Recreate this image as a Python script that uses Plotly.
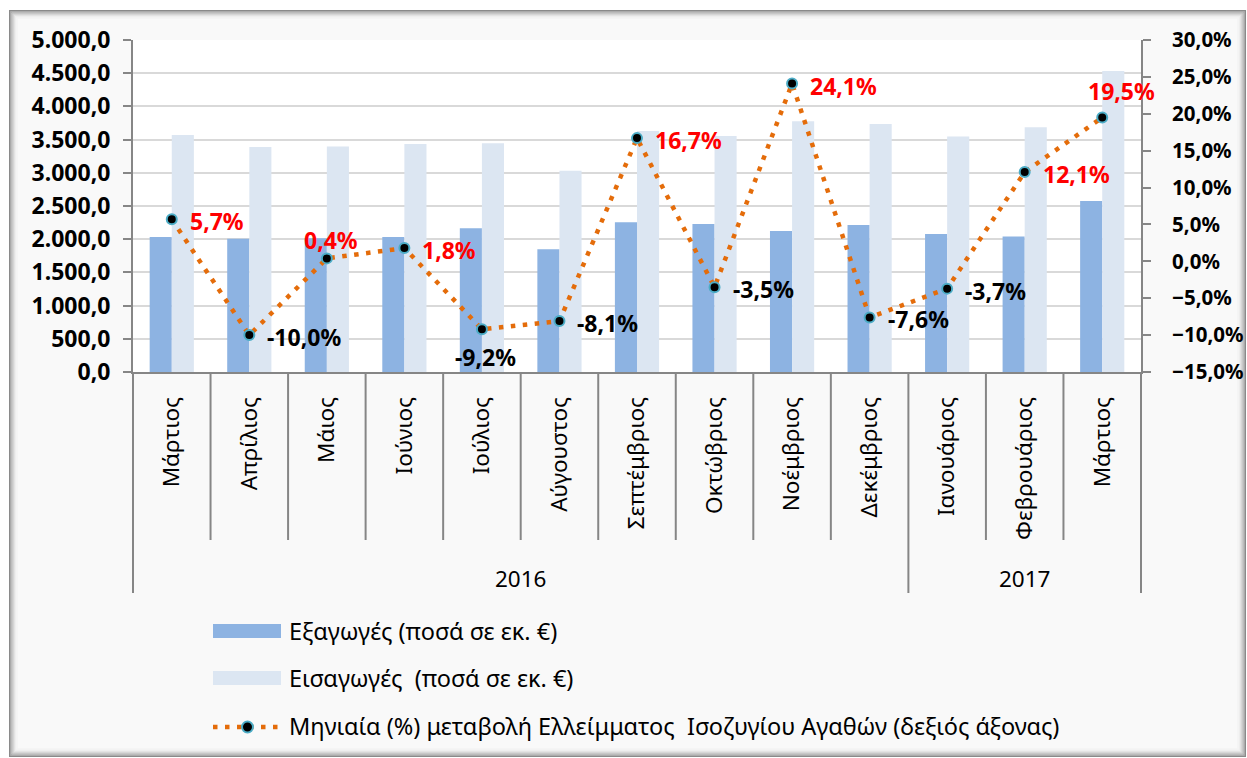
import plotly.graph_objects as go

# ---------------- data ----------------
months = ["Μάρτιος", "Απρίλιος", "Μάιος", "Ιούνιος", "Ιούλιος", "Αύγουστος",
          "Σεπτέμβριος", "Οκτώβριος", "Νοέμβριος", "Δεκέμβριος",
          "Ιανουάριος", "Φεβρουάριος", "Μάρτιος"]
years = ["2016"] * 10 + ["2017"] * 3
exports = [2035, 2005, 2015, 2035, 2165, 1850, 2255, 2230, 2125, 2215, 2080, 2040, 2575]
imports = [3570, 3390, 3395, 3435, 3445, 3030, 3630, 3555, 3775, 3735, 3545, 3685, 4535]
deficit_change = [5.7, -10.0, 0.4, 1.8, -9.2, -8.1, 16.7, -3.5, 24.1, -7.6, -3.7, 12.1, 19.5]
label_pos = ["right", "right", "above", "right", "below", "right", "right",
             "right", "right", "right", "right", "right", "above"]

name_exp = "Εξαγωγές (ποσά σε εκ. €)"
name_imp = "Εισαγωγές\u00a0 (ποσά σε εκ. €)"
name_line = "Μηνιαία (%) μεταβολή Ελλείμματος\u00a0 Ισοζυγίου Αγαθών (δεξιός άξονας)"

# ---------------- style ----------------
FONT = "Noto Sans"
C_EXP = "#8DB3E2"
C_IMP = "#DCE6F2"
C_LINE = "#E46C0A"
C_MK_LINE = "#4BACC6"
C_AXIS = "#868686"
C_GRID = "#D9D9D9"
DOT = dict(color=C_LINE, width=4.5, dash="4.5px,7.5px")

W, H = 1247, 758
ML, MR, MT, MB = 133, 106, 40, 386
PW, PH = W - ML - MR, H - MT - MB


def px(x):
    return (x - ML) / PW


def py(y):
    return (H - MB - y) / PH


x_idx = list(range(len(months)))
n = len(months)

fig = go.Figure()
fig.add_trace(go.Bar(x=x_idx, y=exports, name=name_exp, marker_color=C_EXP,
                     marker_line_width=0, showlegend=False))
fig.add_trace(go.Bar(x=x_idx, y=imports, name=name_imp, marker_color=C_IMP,
                     marker_line_width=0, showlegend=False))
fig.add_trace(go.Scatter(x=x_idx, y=[v / 100 for v in deficit_change], yaxis="y2",
                         name=name_line, mode="lines+markers",
                         line=DOT,
                         marker=dict(size=10, color="black",
                                     line=dict(color=C_MK_LINE, width=2)),
                         showlegend=False))

shapes = []
# frame with inset shadow
frame_cols = ["#8a8a8a", "#a4a4a4", "#bdbdbd", "#d2d2d2", "#e3e3e3", "#eeeeee", "#f4f4f4"]
x0f, x1f, y0f, y1f = 9, 1246, 10, 757
shapes.append(dict(type="rect", xref="paper", yref="paper", layer="below",
                   x0=px(x0f), x1=px(x1f), y0=py(y1f), y1=py(y0f),
                   fillcolor="#F9F9F9", line=dict(width=0)))
for k, c in enumerate(frame_cols):
    d = 0.75 + k * 1.2
    shapes.append(dict(type="rect", xref="paper", yref="paper", layer="below",
                       x0=px(x0f + d), x1=px(x1f - d), y0=py(y1f - d), y1=py(y0f + d),
                       line=dict(color=c, width=1.5), fillcolor="rgba(0,0,0,0)"))
# plot area
shapes.append(dict(type="rect", xref="paper", yref="paper", layer="below",
                   x0=0, x1=1, y0=0, y1=1, fillcolor="white", line=dict(width=0)))

# category dividers
bottom_short = py(540)
bottom_long = py(593)
group_bounds = {0, n}
for i in range(1, n):
    if years[i] != years[i - 1]:
        group_bounds.add(i)
for k in range(n + 1):
    yb = bottom_long if k in group_bounds else bottom_short
    shapes.append(dict(type="line", xref="paper", yref="paper",
                       x0=k / n, x1=k / n, y0=0, y1=yb,
                       line=dict(color=C_AXIS, width=2)))

# legend (manual)
leg_x0, leg_x1 = px(213), px(281)
shapes.append(dict(type="rect", xref="paper", yref="paper", x0=leg_x0, x1=leg_x1,
                   y0=py(638), y1=py(624), fillcolor=C_EXP, line=dict(width=0)))
shapes.append(dict(type="rect", xref="paper", yref="paper", x0=leg_x0, x1=leg_x1,
                   y0=py(685), y1=py(671), fillcolor=C_IMP, line=dict(width=0)))
shapes.append(dict(type="line", xref="paper", yref="paper", x0=leg_x0, x1=leg_x1,
                   y0=py(727), y1=py(727), line=DOT))
shapes.append(dict(type="circle", xref="paper", yref="paper",
                   x0=px(242), x1=px(253), y0=py(732.5), y1=py(721.5),
                   fillcolor="black", line=dict(color=C_MK_LINE, width=2)))

annotations = []
for txt, yy in [(name_exp, 631), (name_imp, 678), (name_line, 726)]:
    annotations.append(dict(text=txt, xref="paper", yref="paper", x=px(287), y=py(yy),
                            xanchor="left", yanchor="middle", showarrow=False,
                            font=dict(family=FONT, size=23.5, color="black")))

# year group labels
for yr in dict.fromkeys(years):
    idxs = [i for i, y in enumerate(years) if y == yr]
    annotations.append(dict(text=yr, xref="x", yref="paper",
                            x=(idxs[0] + idxs[-1]) / 2, y=py(578),
                            xanchor="center", yanchor="middle", showarrow=False,
                            font=dict(family=FONT, size=22.5, color="black")))

# data labels
shift = {"right": dict(xanchor="left", yanchor="middle", xshift=16, yshift=-2),
         "above": dict(xanchor="center", yanchor="middle", xshift=4, yshift=18),
         "below": dict(xanchor="center", yanchor="middle", xshift=4, yshift=-28)}
for i, (v, pos) in enumerate(zip(deficit_change, label_pos)):
    txt = f"{v:.1f}".replace(".", ",") + "%"
    a = dict(text=txt, xref="x", yref="y2", x=i, y=v / 100, showarrow=False,
             font=dict(family=FONT, size=23, weight="bold",
                       color="#FF0000" if v > 0 else "black"))
    a.update(shift[pos])
    if pos == "above" and i == n - 1:
        a["xshift"] = 19
        a["yshift"] = 26
    annotations.append(a)

fig.update_layout(
    width=W, height=H, autosize=False,
    margin=dict(l=ML, r=MR, t=MT, b=MB, pad=0, autoexpand=False),
    paper_bgcolor="white", plot_bgcolor="white",
    separators=",.",
    barmode="group", bargap=0.43, bargroupgap=0,
    font=dict(family=FONT, color="black"),
    showlegend=False,
    shapes=shapes, annotations=annotations,
    xaxis=dict(range=[-0.5, n - 0.5], tickmode="array", tickvals=x_idx, ticktext=months,
               tickangle=-90, showgrid=False, zeroline=False, automargin=False,
               showline=True, linecolor=C_AXIS, linewidth=2,
               ticks="outside", ticklen=0, ticklabelstandoff=14,
               tickfont=dict(family=FONT, size=22.5, color="black")),
    yaxis=dict(range=[0, 5000], dtick=500, tickformat=",.1f", automargin=False,
               showgrid=True, gridcolor=C_GRID, gridwidth=2, zeroline=False,
               showline=True, linecolor=C_AXIS, linewidth=2,
               ticks="outside", ticklen=8, tickwidth=2, tickcolor=C_AXIS,
               ticklabelstandoff=8,
               tickfont=dict(family=FONT, size=23, weight="bold", color="black")),
    yaxis2=dict(range=[-0.15, 0.30], dtick=0.05, tickformat=".1%", automargin=False,
                overlaying="y", side="right", showgrid=False, zeroline=False,
                showline=True, linecolor=C_AXIS, linewidth=2,
                ticks="outside", ticklen=8, tickwidth=2, tickcolor=C_AXIS,
                ticklabelstandoff=17,
                tickfont=dict(family=FONT, size=20.5, weight="bold", color="black")),
)

fig.write_html("out.html", config={"displayModeBar": False, "responsive": False},
               post_script="document.body.style.margin='0';"
                           "document.body.style.overflow='hidden';"
                           "Plotly.relayout(document.getElementById('{plot_id}'),"
                           "{width: 1247, height: 758});")
